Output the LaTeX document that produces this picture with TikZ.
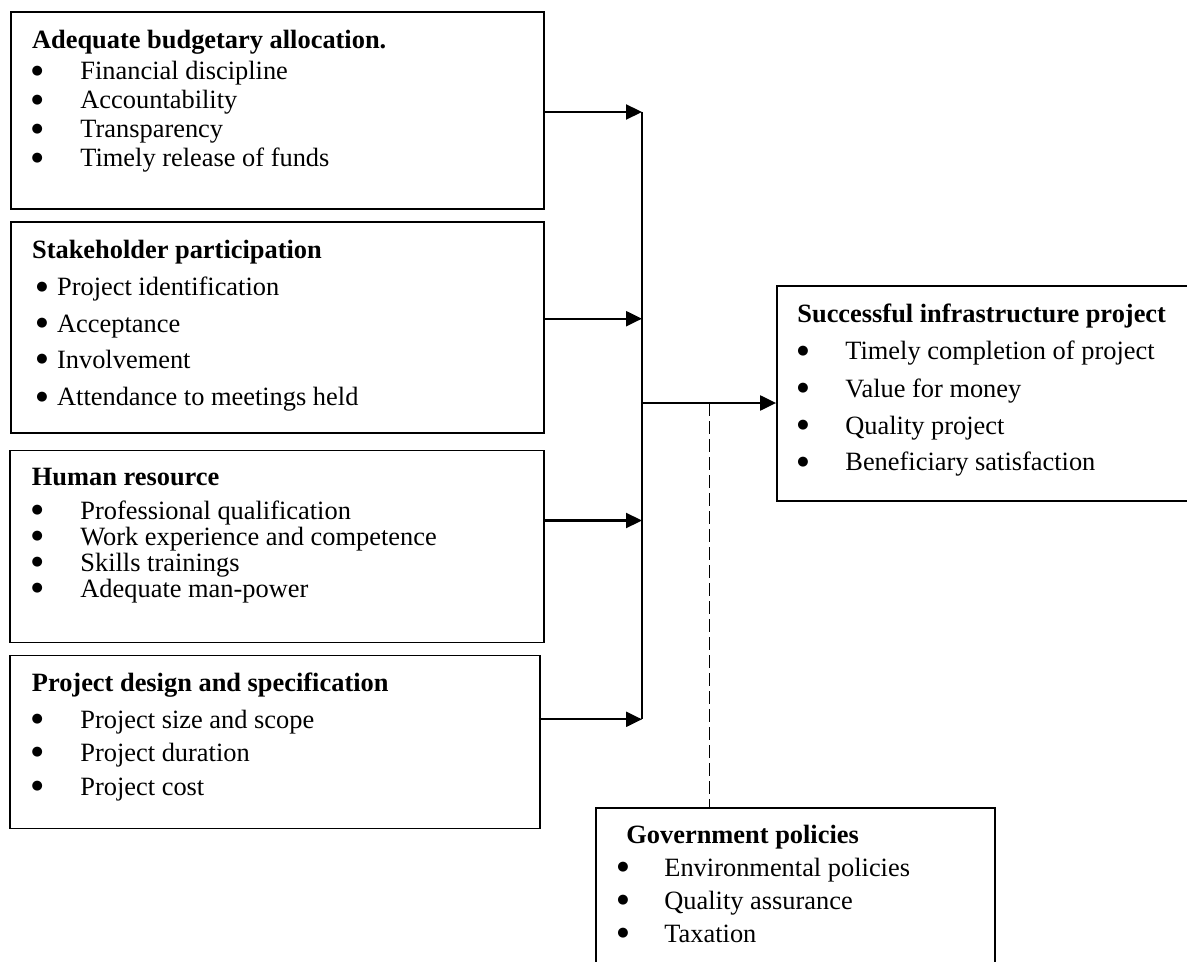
\documentclass[tikz,border=0pt]{standalone}
\usepackage{fontspec}
\setmainfont{Liberation Serif}
\newfontfamily\dvs{DejaVu Sans}
\usetikzlibrary{arrows.meta,fit}
\begin{document}
\begin{tikzpicture}[x=0.5pt,y=-0.5pt,
  boxst/.style={draw, line width=0.9pt, inner sep=0pt},
  ttl/.style={anchor=base west, inner sep=0pt, font=\fontsize{13.2}{15}\selectfont\bfseries},
  itm/.style={anchor=base west, inner sep=0pt, font=\fontsize{13.2}{15}\selectfont},
  bul/.style={anchor=center, inner sep=0pt, font=\dvs\fontsize{6.5}{6.5}\selectfont},
  arr/.style={line width=1.1pt, -{Triangle[length=8pt,width=7.5pt]}},
  barst/.style={line width=0.8pt},
  dsh/.style={line width=0.8pt, dash pattern=on 6.3pt off 2.7pt}]
\useasboundingbox (0,0) rectangle (1187,962);
\clip (0,0) rectangle (1187,962);

% box corners
\coordinate (b1a) at (10.7,12.3);  \coordinate (b1b) at (544,209.3);
\coordinate (b2a) at (10.7,222.3); \coordinate (b2b) at (544,433.3);
\coordinate (b3a) at (10,450.5);   \coordinate (b3b) at (544,642.5);
\coordinate (b4a) at (10,655.5);   \coordinate (b4b) at (540,828.5);
\coordinate (b5a) at (777,286);    \coordinate (b5b) at (1195,501);
\coordinate (b6a) at (596,808);    \coordinate (b6b) at (995,980);

\node[boxst, fit=(b1a)(b1b)] (b1) {};
\node[boxst, fit=(b2a)(b2b)] (b2) {};
\node[boxst, fit=(b3a)(b3b)] (b3) {};
\node[boxst, fit=(b4a)(b4b)] (b4) {};
\node[boxst, fit=(b5a)(b5b)] (b5) {};
\node[boxst, fit=(b6a)(b6b)] (b6) {};

% box 1
\node[ttl] (t1) at (31.7,48.5) {Adequate budgetary allocation.};
\node[bul] (t1p1) at (37.3,80-9) {●};  \node[itm] (t1i1) at (80,80) {Financial discipline};
\node[bul] (t1p2) at (37.3,109-9) {●}; \node[itm] (t1i2) at (80,109) {Accountability};
\node[bul] (t1p3) at (37.3,138-9) {●}; \node[itm] (t1i3) at (80,138) {Transparency};
\node[bul] (t1p4) at (37.3,167-9) {●}; \node[itm] (t1i4) at (80,167) {Timely release of funds};

% box 2
\node[ttl] (t2) at (31.7,259) {Stakeholder participation};
\node[bul] (t2p1) at (42,295.7-9) {●}; \node[itm] (t2i1) at (56.7,295.7) {Project identification};
\node[bul] (t2p2) at (42,332.3-9) {●}; \node[itm] (t2i2) at (56.7,332.3) {Acceptance};
\node[bul] (t2p3) at (42,368-9) {●};   \node[itm] (t2i3) at (56.7,368) {Involvement};
\node[bul] (t2p4) at (42,405.7-9) {●}; \node[itm] (t2i4) at (56.7,405.7) {Attendance to meetings held};

% box 3
\node[ttl] (t3) at (31.5,485) {Human resource};
\node[bul] (t3p1) at (37.3,519-9) {●}; \node[itm] (t3i1) at (80,519) {Professional qualification};
\node[bul] (t3p2) at (37.3,545-9) {●}; \node[itm] (t3i2) at (80,545) {Work experience and competence};
\node[bul] (t3p3) at (37.3,571-9) {●}; \node[itm] (t3i3) at (80,571) {Skills trainings};
\node[bul] (t3p4) at (37.3,597-9) {●}; \node[itm] (t3i4) at (80,597) {Adequate man-power};

% box 4
\node[ttl] (t4) at (31.5,691) {Project design and specification};
\node[bul] (t4p1) at (37.3,728-9) {●}; \node[itm] (t4i1) at (80,728) {Project size and scope};
\node[bul] (t4p2) at (37.3,761.5-9) {●}; \node[itm] (t4i2) at (80,761.5) {Project duration};
\node[bul] (t4p3) at (37.3,795-9) {●}; \node[itm] (t4i3) at (80,795) {Project cost};

% box 5
\node[ttl] (t5) at (797,322) {Successful infrastructure project};
\node[bul] (t5p1) at (803,359.7-9) {●}; \node[itm] (t5i1) at (845,359.7) {Timely completion of project};
\node[bul] (t5p2) at (803,397.3-9) {●}; \node[itm] (t5i2) at (845,397.3) {Value for money};
\node[bul] (t5p3) at (803,434-9) {●};   \node[itm] (t5i3) at (845,434) {Quality project};
\node[bul] (t5p4) at (803,470.7-9) {●}; \node[itm] (t5i4) at (845,470.7) {Beneficiary satisfaction};

% box 6
\node[ttl] (t6) at (626,843) {Government policies};
\node[bul] (t6p1) at (623,876-9) {●}; \node[itm] (t6i1) at (664,876) {Environmental policies};
\node[bul] (t6p2) at (623,909-9) {●}; \node[itm] (t6i2) at (664,909) {Quality assurance};
\node[bul] (t6p3) at (623,942-9) {●}; \node[itm] (t6i3) at (664,942) {Taxation};

% junction points on the collecting bar
\coordinate (j1) at (642,112);
\coordinate (j2) at (642,318.7);
\coordinate (jm) at (642,403);
\coordinate (j3) at (642,520.5);
\coordinate (j4) at (642,719.3);
\coordinate (dj) at (709.5,403);

\draw[barst] (j1) -- (j4);
\draw[arr] (b1.east |- j1) -- (j1);
\draw[arr] (b2.east |- j2) -- (j2);
\draw[arr] (b3.east |- j3) -- (j3);
\draw[arr] ([xshift=-1pt]b4.east |- j4) -- (j4);
\draw[arr] (jm) -- (b5.west |- jm);
\draw[dsh] (dj) -- (b6.north -| dj);
\end{tikzpicture}
\end{document}
